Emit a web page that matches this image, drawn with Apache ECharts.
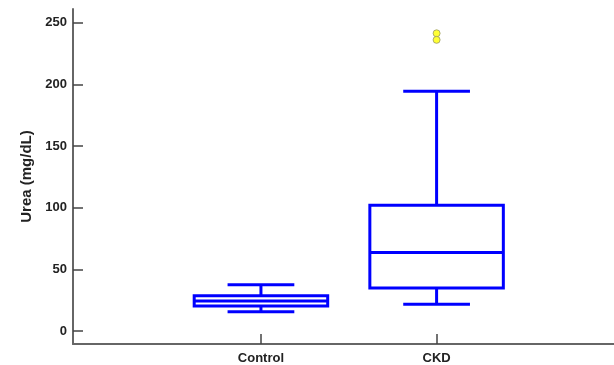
<!DOCTYPE html>
<html>
<head>
<meta charset="utf-8">
<script src="https://cdn.jsdelivr.net/npm/echarts@6/dist/echarts.min.js"></script>
<style>
  html, body { margin: 0; padding: 0; background: #fff; }
  #box { width: 614px; height: 365px; }
</style>
</head>
<body>
<div id="box"></div>
<script>
  // categories and positions on the x value axis
  var categories = ['Control', 'CKD'];
  var catPos = [1, 2];
  // [min whisker, q1, median, q3, max whisker]
  var controlBox = [15.6, 20.2, 24.3, 28.7, 37.5];
  var ckdBox = [21.8, 34.8, 63.7, 102, 194.4];
  // outliers [x, value]
  var outliers = [[2, 241.3], [2, 236.0]];
  var yTicks = [0, 50, 100, 150, 200, 250];

  var boxData = [
    [catPos[0]].concat(controlBox),
    [catPos[1]].concat(ckdBox)
  ];

  var myChart = echarts.init(document.getElementById('box'));

  var axisColor = '#666';
  var fontBase = {
    fontFamily: 'Liberation Sans, Arial, sans-serif',
    fontWeight: 'bold',
    color: '#222',
    fontSize: 13
  };

  function renderBox(params, api) {
    var x = api.value(0);
    var lo = api.coord([x, api.value(1)]);
    var q1 = api.coord([x, api.value(2)]);
    var med = api.coord([x, api.value(3)]);
    var q3 = api.coord([x, api.value(4)]);
    var hi = api.coord([x, api.value(5)]);
    var boxHalf = api.size([0.38, 0])[0];
    var capHalf = api.size([0.19, 0])[0];
    var cx = med[0];
    var st = { stroke: '#0000ff', lineWidth: 3, fill: null };
    return {
      type: 'group',
      children: [
        { type: 'rect', shape: { x: cx - boxHalf, y: q3[1], width: boxHalf * 2, height: q1[1] - q3[1] }, style: st },
        { type: 'line', shape: { x1: cx - boxHalf, y1: med[1], x2: cx + boxHalf, y2: med[1] }, style: st },
        { type: 'line', shape: { x1: cx, y1: q3[1], x2: cx, y2: hi[1] }, style: st },
        { type: 'line', shape: { x1: cx, y1: q1[1], x2: cx, y2: lo[1] }, style: st },
        { type: 'line', shape: { x1: cx - capHalf, y1: hi[1], x2: cx + capHalf, y2: hi[1] }, style: st },
        { type: 'line', shape: { x1: cx - capHalf, y1: lo[1], x2: cx + capHalf, y2: lo[1] }, style: st }
      ]
    };
  }

  var option = {
    animation: false,
    grid: { left: 73, right: 0, top: 9, bottom: 21 },
    xAxis: {
      type: 'value',
      min: -0.07,
      max: 3.01,
      splitLine: { show: false },
      axisLine: { show: true, onZero: false, lineStyle: { color: axisColor, width: 2 } },
      axisTick: { show: true, inside: true, length: 10, customValues: catPos, lineStyle: { color: '#444', width: 1.5 } },
      axisLabel: Object.assign({
        margin: 8,
        customValues: catPos,
        formatter: function (v) {
          var i = catPos.indexOf(v);
          return i >= 0 ? categories[i] : '';
        }
      }, fontBase)
    },
    yAxis: {
      type: 'value',
      min: -10.5,
      max: 261,
      name: 'Urea (mg/dL)',
      nameLocation: 'middle',
      nameGap: 26,
      nameTextStyle: Object.assign({}, fontBase, { fontSize: 15 }),
      splitLine: { show: false },
      axisLine: { show: true, onZero: false, lineStyle: { color: axisColor, width: 2 } },
      axisTick: { show: true, inside: true, length: 10, customValues: yTicks, lineStyle: { color: '#444', width: 1.5 } },
      axisLabel: Object.assign({ margin: 6, customValues: yTicks }, fontBase)
    },
    series: [
      {
        type: 'custom',
        renderItem: renderBox,
        encode: { x: 0, y: [1, 2, 3, 4, 5] },
        data: boxData
      },
      {
        type: 'scatter',
        symbol: 'circle',
        symbolSize: 7,
        itemStyle: { color: '#ffff00', borderColor: '#999966', borderWidth: 1 },
        data: outliers
      }
    ]
  };

  myChart.setOption(option);
</script>
</body>
</html>
